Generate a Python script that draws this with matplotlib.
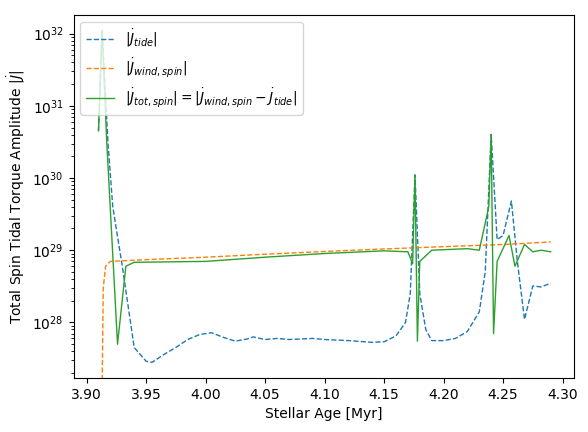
import matplotlib
matplotlib.use("Agg")
import matplotlib.pyplot as plt
import numpy as np

# |J_tide|
age_tide = [3.910, 3.913, 3.918, 3.922, 3.930, 3.940, 3.950, 3.955, 3.965, 3.975, 3.985,
            3.995, 4.005, 4.015, 4.025, 4.035, 4.040, 4.050, 4.060, 4.070, 4.080, 4.090,
            4.100, 4.120, 4.140, 4.150, 4.160, 4.168, 4.172, 4.176, 4.180, 4.185, 4.190,
            4.200, 4.210, 4.220, 4.230, 4.235, 4.240, 4.245, 4.250, 4.257, 4.262, 4.268,
            4.275, 4.282, 4.290]
j_tide = [4.5e30, 1.1e32, 3e30, 4e29, 6e28, 4.5e27, 2.9e27, 2.8e27, 3.6e27, 4.5e27, 5.8e27,
          6.8e27, 7.2e27, 6.2e27, 5.5e27, 5.9e27, 6.3e27, 5.8e27, 6.0e27, 5.8e27, 5.9e27, 6.0e27,
          5.8e27, 5.6e27, 5.3e27, 5.4e27, 6.5e27, 1.0e28, 2.5e28, 1.1e30, 2.5e28, 8e27, 5.6e27,
          5.6e27, 6.0e27, 7.5e27, 1.4e28, 5e28, 4e30, 1.4e29, 1.6e29, 4.8e29, 7e28, 1.1e28,
          3.2e28, 3.1e28, 3.5e28]

# |J_wind,spin|
age_wind = [3.913, 3.914, 3.916, 3.920, 3.950, 4.000, 4.050, 4.100, 4.150, 4.200, 4.250, 4.290]
j_wind = [1e27, 3e28, 6e28, 7e28, 7.4e28, 8e28, 8.8e28, 9.6e28, 1.04e29, 1.12e29, 1.2e29, 1.3e29]

# |J_tot,spin|
age_tot = [3.910, 3.913, 3.917, 3.926, 3.933, 3.940, 4.000, 4.050, 4.100, 4.150, 4.170,
           4.174, 4.176, 4.178, 4.180, 4.190, 4.220, 4.230, 4.238, 4.240, 4.242, 4.245,
           4.255, 4.260, 4.268, 4.275, 4.282, 4.290]
j_tot = [4.5e30, 1.1e32, 3e30, 5e27, 6e28, 6.8e28, 7e28, 8e28, 9e28, 9.8e28, 9.5e28,
         6.5e28, 1.1e30, 5.5e27, 7e28, 1e29, 1.05e29, 1e29, 4e29, 4e30, 7e27, 7e28,
         1.6e29, 6e28, 1.2e29, 9.5e28, 1e29, 9.5e28]

fig, ax = plt.subplots(figsize=(5.88, 4.32), dpi=100)
ax.plot(age_tide, j_tide, '--', color='C0', lw=1, label=r'$|\dot{J}_{tide}|$')
ax.plot(age_wind, j_wind, '--', color='C1', lw=1, label=r'$|\dot{J}_{wind,spin}|$')
ax.plot(age_tot, j_tot, '-', color='C2', lw=1,
        label=r'$|\dot{J}_{tot,spin}|=|\dot{J}_{wind,spin}-\dot{J}_{tide}|$')
ax.set_yscale('log')
ax.set_xlim(3.889, 4.31)
ax.set_ylim(1.7e27, 1.8e32)
ax.set_xlabel('Stellar Age [Myr]')
ax.set_ylabel(r'Total Spin Tidal Torque Amplitude $|\dot{J}|$')
ax.legend(loc='upper left')
fig.subplots_adjust(left=0.125, right=0.977, top=0.965, bottom=0.125)
fig.savefig('out.png')
